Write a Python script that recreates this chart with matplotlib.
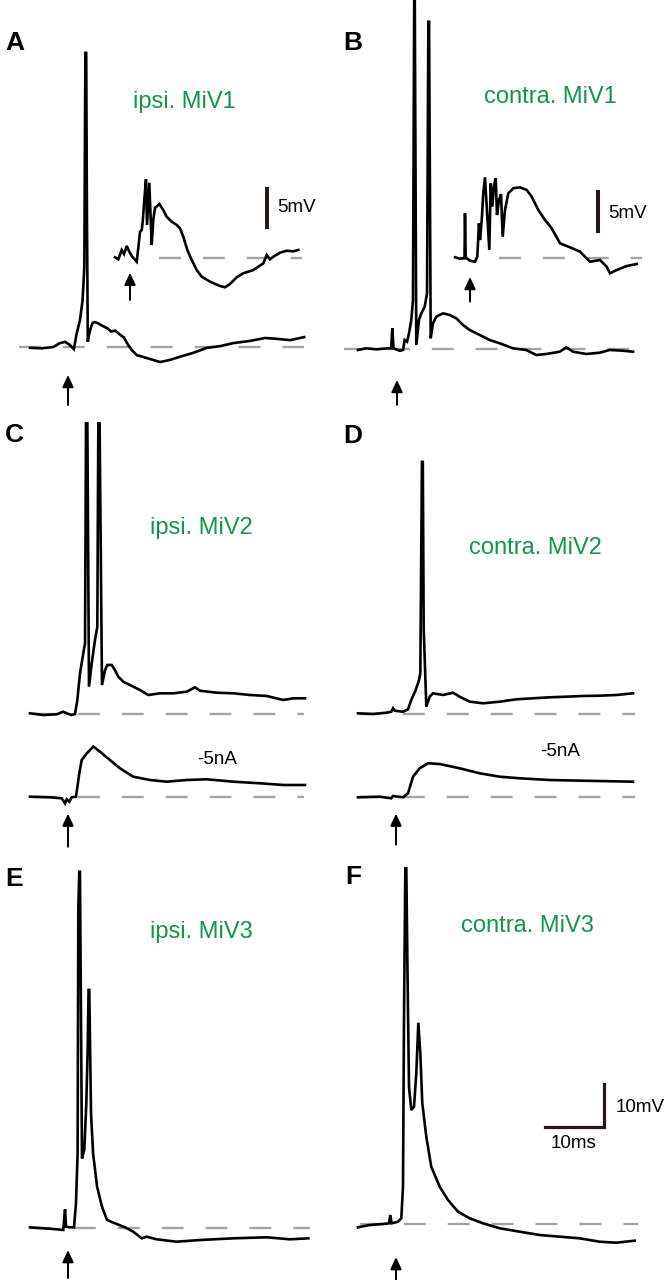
import matplotlib
matplotlib.use("Agg")
import matplotlib.pyplot as plt

plt.rcParams['font.family'] = ['Liberation Sans', 'DejaVu Sans']
plt.rcParams['lines.scale_dashes'] = False

W, H = 667, 1280
GREEN = '#15954a'
BAR = '#231815'
GRAY = '#a3a3a3'

# ---------------- data (time in ms from stimulus, voltage in mV from rest) -------------
# Panel A: ipsi. MiV1
tA = [-6.5, -4.5, -2.5, -1.4, -0.5, 0.3, 1.0, 1.5, 2.06, 2.5, 2.8, 2.98, 3.12, 3.25, 3.4, 3.55, 3.9, 4.2, 4.6,
      5.2, 5.8, 6.7, 7.4, 8.1, 8.9, 9.6, 10.3, 11.0, 11.8, 13.6, 15.8, 17.5, 19.6, 21.4, 23.8, 26.1, 28.3,
      31.2, 33.8, 35.8, 38.1, 40.5]
vA = [-0.2, -0.3, 0.0, 0.9, 1.2, 0.5, -0.5, 3.2, 6.3, 10.9, 18.6, 68.4, 68.4, 30.0, 1.2, 2.5, 4.4, 5.6, 5.8,
      5.5, 5.0, 4.4, 3.6, 3.8, 2.9, 2.2, 0.5, -0.8, -1.9, -2.6, -3.5, -3.0, -2.1, -1.4, -0.2, 0.2, 0.9,
      1.4, 2.1, 1.9, 1.6, 2.3]
# Panel A inset (5 mV scale)
tAi = [-2.57, -2.0, -1.42, -1.03, -0.57, -0.12, 0.39, 1.15, 1.42, 1.72, 2.01, 2.18, 2.45, 2.74, 2.92, 3.31,
       3.72, 3.99, 4.29, 4.85, 5.03, 5.71, 6.29, 7.15, 8.01, 8.58, 9.14, 9.83, 10.58, 11.44, 12.3, 13.72,
       15.44, 16.3, 17.15, 18.3, 19.43, 21.15, 22.87, 23.45, 24.01, 24.58, 25.73, 26.88, 28.01, 28.87]
vAi = [0.12, -0.12, 0.98, 0.51, 1.45, 0.78, 0.19, -0.4, 1.18, 3.13, 3.33, 4.31, 6.86, 9.29, 3.92, 8.89,
       1.56, 4.51, 5.92, 6.27, 6.39, 5.68, 4.89, 4.31, 3.92, 3.53, 2.54, 0.98, -0.2, -1.38, -2.16, -2.75,
       -3.26, -3.41, -3.02, -2.24, -1.76, -1.38, -0.59, 0.39, -0.12, 0.19, 0.66, 0.89, 0.82, 0.98]

# Panel B: contra. MiV1
tB = [-6.7, -5.3, -3.55, -1.54, -1.0, -0.81, -0.6, 0.46, 1.03, 1.32, 1.72, 2.06, 2.45, 2.74, 2.95, 3.05,
      3.31, 3.77, 4.17, 4.75, 5.15, 5.38, 5.5, 5.78, 6.17, 6.74, 7.89, 9.04, 10.17, 11.32, 12.47, 14.19,
      15.9, 17.62, 19.9, 22.18, 23.89, 25.61, 27.91, 29.04, 30.19, 32.47, 34.77, 36.48, 38.77, 40.48]
vB = [-0.23, 0.16, -0.07, 0.16, 0.16, 4.81, 0.16, -0.4, -0.23, 2.09, 1.7, 3.65, 6.74, 11.4, 81.0, 81.0,
      0.93, 6.74, 8.3, 9.84, 12.95, 76.1, 76.1, 2.49, 5.98, 7.51, 8.3, 7.91, 7.14, 5.58, 4.42, 3.26,
      2.09, 1.33, 0.16, -0.23, -1.4, -1.16, -0.63, 0.4, -0.63, -1.16, -0.86, -0.23, -0.4, -0.63]
# Panel B inset (5 mV scale)
tBi = [-2.57, -1.72, -1.15, -0.94, -0.86, -0.74, -0.57, 0.0, 0.86, 1.25, 1.54, 1.72, 2.01, 2.28, 2.57,
       3.31, 3.55, 3.83, 4.12, 4.41, 4.63, 4.97, 5.32, 5.61, 6.0, 6.57, 7.43, 8.58, 9.73, 10.58, 11.72,
       12.86, 14.01, 15.44, 17.15, 18.87, 20.58, 22.3, 23.45, 24.01, 25.16, 26.88, 28.59]
vBi = [0.12, -0.05, 0.0, 0.0, 5.29, 0.2, 0.0, -0.28, -0.4, 0.19, 4.12, 2.15, 4.51, 7.65, 9.53,
       0.98, 8.82, 6.07, 8.62, 9.41, 5.09, 6.86, 7.56, 2.54, 5.68, 7.65, 8.24, 8.35, 8.04, 7.25, 5.68,
       4.51, 3.53, 1.76, 1.29, 0.78, -0.4, -0.2, -0.99, -1.76, -1.38, -0.91, -0.67]

# Panel C: ipsi. MiV2
tC = [-6.52, -4.24, -1.94, -0.81, -0.22, 0.63, 1.2, 1.6, 2.06, 2.62, 2.92, 3.09, 3.32, 3.6, 4.07, 4.63,
      5.03, 5.2, 5.42, 5.83, 6.35, 6.74, 7.5, 8.06, 8.63, 9.49, 10.63, 12.35, 13.77, 15.78, 18.06, 20.36,
      21.78, 22.64, 25.51, 28.35, 31.22, 34.08, 36.93, 38.65, 40.65]
vC = [0.16, -0.23, -0.07, 0.53, 0.16, -0.23, 0.0, 3.26, 9.47, 14.1, 16.4, 67.6, 67.6, 6.35, 11.8, 17.2,
      20.3, 67.6, 67.6, 6.74, 10.2, 11.4, 11.4, 10.2, 8.67, 7.51, 6.74, 5.58, 4.42, 4.81, 4.81, 5.19,
      6.21, 5.42, 4.95, 4.81, 4.42, 4.19, 3.26, 3.65, 3.65]
# Panel C, -5nA
tCn = [-6.52, -3.09, -1.08, -0.51, -0.22, 0.22, 0.63, 1.37, 1.94, 2.35, 3.21, 4.34, 5.49, 7.2, 8.92,
       11.2, 14.07, 16.93, 20.36, 23.79, 28.35, 32.93, 36.93, 40.65]
vCn = [0.14, 0.0, -0.23, -1.4, -0.47, -1.02, 0.0, 0.14, 5.58, 8.67, 10.2, 11.8, 10.6, 8.67, 6.74,
       4.79, 4.02, 3.63, 4.02, 4.19, 3.63, 3.26, 2.86, 2.86]

# Panel D: contra. MiV2
tD = [-6.52, -3.95, -1.66, -0.81, -0.51, -0.22, 1.2, 2.06, 2.62, 3.38, 3.95, 4.17, 4.45, 4.6, 4.75, 5.2,
      5.78, 6.35, 8.06, 9.78, 10.93, 12.64, 14.92, 17.79, 20.63, 23.5, 26.36, 29.2, 32.07, 34.94, 37.79,
      40.65]
vD = [0.23, 0.07, 0.37, 0.6, 1.4, 0.84, 0.6, 1.16, 3.33, 5.65, 7.98, 9.53, 58.7, 58.7, 20.0, 1.77,
      4.09, 4.88, 4.49, 5.02, 4.09, 2.93, 2.56, 2.93, 3.49, 3.72, 3.95, 4.09, 4.26, 4.33, 4.49, 4.88]
# Panel D, -5nA
tDn = [-6.52, -2.8, -0.81, -0.51, 1.2, 2.06, 2.92, 4.07, 5.49, 7.5, 10.93, 14.36, 17.79, 21.22, 26.36,
       32.07, 40.65]
vDn = [0.0, 0.14, -0.23, 0.3, 0.0, 0.93, 4.79, 6.74, 7.91, 7.74, 6.74, 5.58, 4.79, 4.42, 4.02, 3.86, 3.63]

# Panel E: ipsi. MiV3
tE = [-6.52, -4.24, -1.94, -0.81, -0.51, -0.34, 0.34, 1.03, 1.37, 1.65, 1.77, 1.94, 2.05, 2.4, 2.8, 3.14,
      3.36, 3.53, 3.65, 3.95, 4.3, 4.99, 5.83, 6.69, 8.06, 9.78, 11.2, 12.64, 13.5, 15.21, 18.64, 22.64,
      28.35, 34.08, 38.08, 41.22]
vE = [0.09, -0.14, -0.37, -0.53, 4.28, 0.23, 0.09, 0.09, 5.67, 17.3, 74.7, 82.8, 82.8, 16.1, 18.2, 28.9,
      40.6, 55.3, 55.3, 26.6, 17.3, 9.53, 4.88, 1.79, 1.02, 0.09, -0.93, -2.47, -2.09, -2.7, -3.26, -2.86,
      -2.47, -2.23, -2.7, -2.47]

# Panel F: contra. MiV3
tF = [-6.52, -4.51, -2.23, -1.2, -0.98, -0.74, 0.34, 0.91, 1.2, 1.37, 1.6, 1.77, 1.96, 2.23, 2.62, 3.09,
      3.48, 3.83, 4.17, 4.51, 5.2, 6.05, 7.5, 8.92, 10.63, 12.64, 14.92, 17.79, 21.22, 24.65, 28.08, 31.51,
      34.94, 37.79, 40.94]
vF = [-0.77, -0.23, 0.0, 0.16, 2.09, 0.16, 0.53, 1.33, 8.67, 47.4, 82.7, 82.7, 60.0, 31.9, 26.5, 27.3,
      35.0, 46.8, 39.7, 28.1, 20.3, 13.3, 8.67, 5.58, 2.86, 1.33, 0.16, -1.0, -1.79, -2.56, -2.95, -3.33,
      -4.12, -4.35, -3.88]

panel_letters = ['A', 'B', 'C', 'D', 'E', 'F']
cell_names = ['ipsi. MiV1', 'contra. MiV1', 'ipsi. MiV2', 'contra. MiV2', 'ipsi. MiV3', 'contra. MiV3']

# ---------------- layout helpers ----------------
SX = 5.83      # px per ms
SY_MAIN = 4.3  # px per mV (10 mV bar)
SY_INSET = 8.5 # px per mV (5 mV bar)

fig = plt.figure(figsize=(W / 100, H / 100), dpi=100)
_count = [0]


def trace_axes(x0, y0, sy):
    """Full-figure axes where (t=0, V=0) sits at pixel (x0, y0)."""
    _count[0] += 1
    ax = fig.add_axes([0, 0, 1, 1], label='ax%d' % _count[0])
    ax.set_xlim(-x0 / SX, (W - x0) / SX)
    ax.set_ylim((y0 - H) / sy, y0 / sy)
    ax.axis('off')
    ax.patch.set_alpha(0)
    return ax


def trace(ax, t, v, base=(None, None)):
    if base[0] is not None:
        ax.plot(base, [0, 0], color=GRAY, lw=1.7, dashes=(15.8, 15.8), solid_capstyle='butt',
                dash_capstyle='butt', zorder=1)
    ax.plot(t, v, color='black', lw=1.9, solid_joinstyle='miter', zorder=2)


def stim_arrow(ax, v_head, v_tail):
    ax.annotate('', xy=(0, v_head), xytext=(0, v_tail),
                arrowprops=dict(arrowstyle='-|>,head_length=0.6,head_width=0.28', lw=1.4,
                                color='black', shrinkA=0, shrinkB=0, mutation_scale=12))


def ftext(px, py, s, **kw):
    fig.text(px / W, 1 - py / H, s, **kw)


# ---------------- panels ----------------
axA = trace_axes(68, 347, SY_MAIN)
trace(axA, tA, vA, (-8.4, 40.5))
stim_arrow(axA, -6.5, -13.5)

axAi = trace_axes(130, 258.3, SY_INSET)
trace(axAi, tAi, vAi, (4.97, 29.5))
stim_arrow(axAi, -1.7, -4.9)
axAi.plot([23.45, 23.45], [3.41, 8.41], color=BAR, lw=2.9, solid_capstyle='butt')

axB = trace_axes(397, 349, SY_MAIN)
trace(axB, tB, vB, (-9.1, 40.3))
stim_arrow(axB, -7.2, -13.0)

axBi = trace_axes(470, 258.3, SY_INSET)
trace(axBi, tBi, vBi, (4.97, 29.5))
stim_arrow(axBi, -2.2, -5.1)
axBi.plot([22.0, 22.0], [3.0, 8.0], color=BAR, lw=2.9, solid_capstyle='butt')

axC = trace_axes(68, 714, SY_MAIN)
trace(axC, tC, vC, (-5.83, 40.5))
axCn = trace_axes(68, 797.3, SY_MAIN)
trace(axCn, tCn, vCn, (-5.83, 40.5))
stim_arrow(axCn, -3.8, -11.5)

axD = trace_axes(396, 714.3, SY_MAIN)
trace(axD, tD, vD, (-6.35, 41.0))
axDn = trace_axes(396, 797.3, SY_MAIN)
trace(axDn, tDn, vDn, (-6.35, 41.0))
stim_arrow(axDn, -3.8, -11.0)

axE = trace_axes(68, 1227.7, SY_MAIN)
trace(axE, tE, vE, (-6.52, 41.5))
stim_arrow(axE, -5.2, -11.7)

axF = trace_axes(396, 1224, SY_MAIN)
trace(axF, tF, vF, (-6.17, 41.5))
stim_arrow(axF, -7.7, -13.0)
# 10 ms / 10 mV scale bar
axF.plot([25.6, 35.6, 35.6], [22.6, 22.6, 32.6], color=BAR, lw=2.3, solid_capstyle='projecting',
         solid_joinstyle='miter')

# ---------------- text ----------------
label_pos = [(5, 50), (343, 50), (5, 442), (343, 443), (5, 886), (345, 884)]
for (px, py), s in zip(label_pos, panel_letters):
    ftext(px, py, s, fontsize=19, fontweight='bold', ha='left', va='baseline')

name_pos = [(184, 102), (550, 97), (201, 528), (535, 548), (201, 932), (527, 926)]
for (px, py), s in zip(name_pos, cell_names):
    ftext(px, py, s, fontsize=17, color=GREEN, ha='center', va='center')

ftext(277, 208, '5mV', fontsize=13.5, ha='left', va='center')
ftext(608, 213, '5mV', fontsize=13.5, ha='left', va='center')
ftext(217, 760, '-5nA', fontsize=13.5, ha='center', va='center')
ftext(560, 752, '-5nA', fontsize=13.5, ha='center', va='center')
ftext(616, 1107, '10mV', fontsize=13.5, ha='left', va='center')
ftext(573, 1143, '10ms', fontsize=13.5, ha='center', va='center')

fig.savefig('out.png', dpi=100, facecolor='white')
